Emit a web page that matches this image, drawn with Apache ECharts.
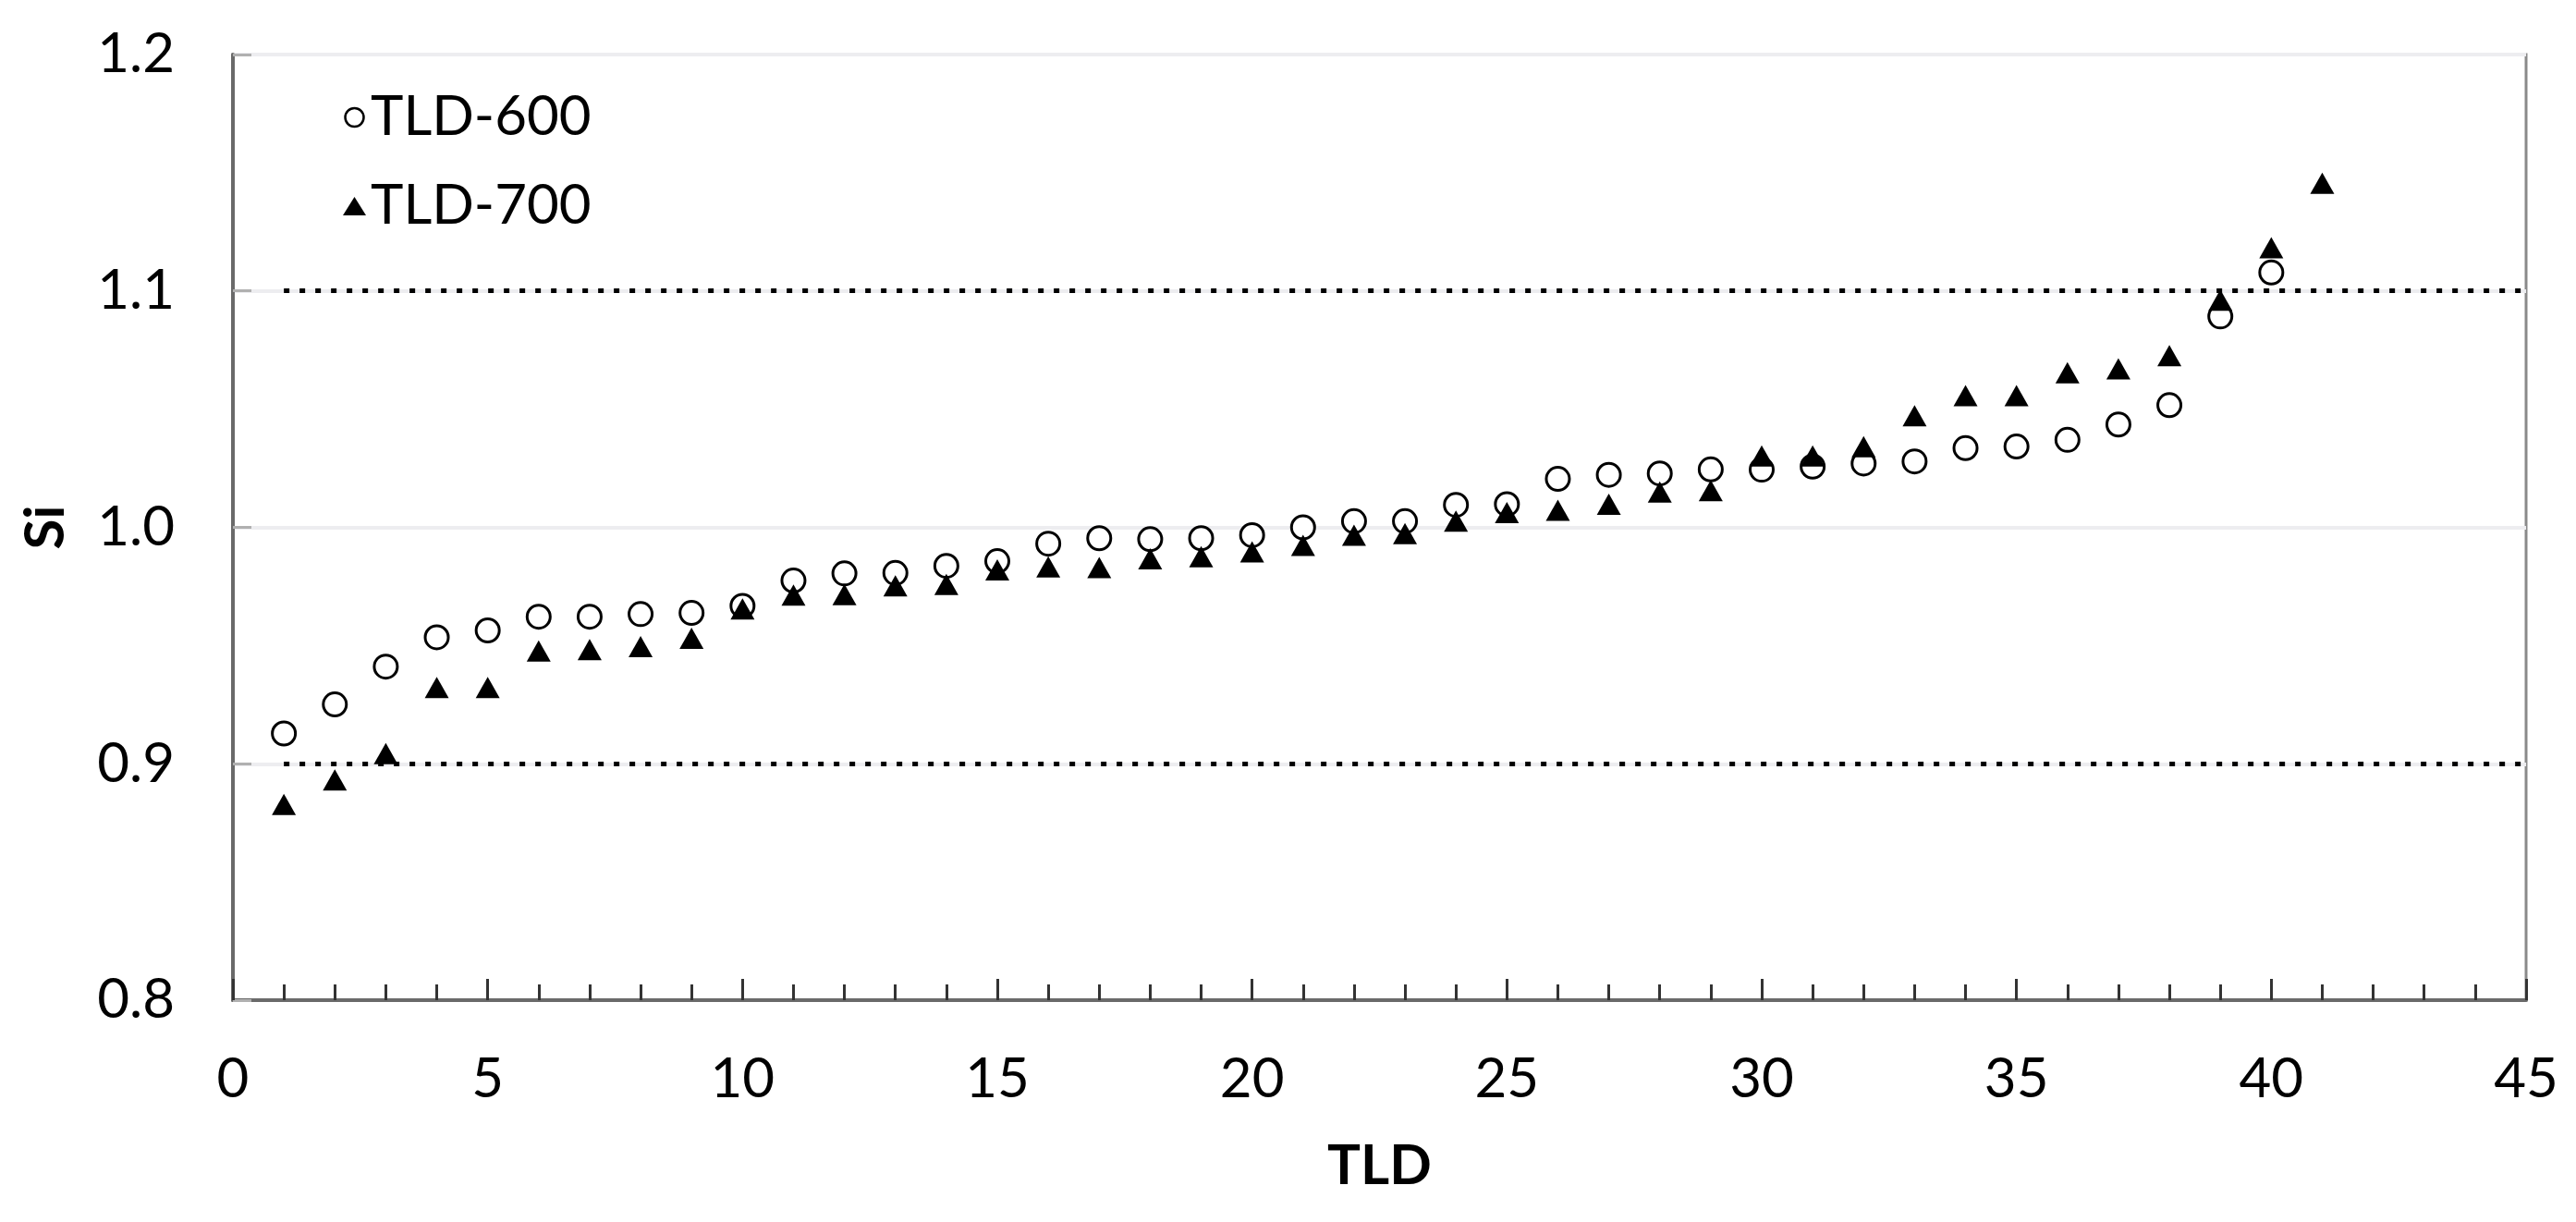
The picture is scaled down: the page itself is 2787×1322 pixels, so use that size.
<!DOCTYPE html>
<html>
<head>
<meta charset="utf-8">
<style>
  html, body { margin: 0; padding: 0; background: #fff; }
  #chart { width: 2787px; height: 1322px; }
</style>
<script src="https://cdn.jsdelivr.net/npm/echarts@6/dist/echarts.min.js"></script>
</head>
<body>
<div id="chart"></div>
<script>
// ---- data ----
const seriesNames = ['TLD-600', 'TLD-700'];
const tld600X = [1,2,3,4,5,6,7,8,9,10,11,12,13,14,15,16,17,18,19,20,21,22,23,24,25,26,27,28,29,30,31,32,33,34,35,36,37,38,39,40];
const tld600Si = [0.9128,0.9251,0.9411,0.9535,0.9564,0.9622,0.9622,0.9633,0.9638,0.9668,
                  0.9775,0.9805,0.9807,0.9837,0.9857,0.9931,0.9954,0.9950,0.9954,0.9967,
                  1.0000,1.0026,1.0026,1.0095,1.0098,1.0205,1.0222,1.0228,1.0245,1.0244,
                  1.0257,1.0270,1.0279,1.0335,1.0342,1.0370,1.0435,1.0517,1.0892,1.1078];
const tld700X = [1,2,3,4,5,6,7,8,9,10,11,12,13,14,15,16,17,18,19,20,21,22,23,24,25,26,27,28,29,30,31,32,33,34,35,36,37,38,39,40,41];
const tld700Si = [0.8828,0.8932,0.9043,0.9323,0.9323,0.9477,0.9483,0.9496,0.9531,0.9655,
                  0.9714,0.9716,0.9753,0.9759,0.9820,0.9833,0.9830,0.9867,0.9876,0.9896,
                  0.9924,0.9967,0.9974,1.0026,1.0063,1.0072,1.0098,1.0150,1.0155,1.0302,
                  1.0302,1.0341,1.0472,1.0557,1.0557,1.0654,1.0671,1.0726,1.0961,1.1183,1.1456];
const limitLines = [0.9, 1.1];          // dotted reference lines
const limitFrom = 1, limitTo = 45;       // x-extent of the dotted lines
const xMin = 0, xMax = 45, xStep = 5;
const yMin = 0.8, yMax = 1.2, yStep = 0.1;
const xTitle = 'TLD', yTitle = 'Si';

// ---- chart ----
const FONT = 'Lato';
const chart = echarts.init(document.getElementById('chart'), null, { renderer: 'canvas' });
const pairs = (xs, ys) => xs.map((x, i) => [x, ys[i]]);

chart.setOption({
  animation: false,
  backgroundColor: '#fff',
  textStyle: { fontFamily: FONT },
  grid: {
    left: 252, right: 54, top: 59, bottom: 240,
    show: true, borderColor: '#8a8a8a', borderWidth: 3, backgroundColor: 'transparent'
  },
  legend: {
    orient: 'vertical',
    left: 366, top: 92,
    itemWidth: 25, itemHeight: 20, itemGap: 36, itemTextGap: 29,
    textStyle: { fontFamily: FONT, fontSize: 60, color: '#000' },
    data: [
      { name: seriesNames[0], icon: 'circle',
        itemStyle: { color: '#fff', borderColor: '#000', borderWidth: 2.5 } },
      { name: seriesNames[1], icon: 'triangle',
        itemStyle: { color: '#000', borderWidth: 0 } }
    ]
  },
  xAxis: {
    type: 'value', min: xMin, max: xMax, interval: xStep,
    name: xTitle, nameLocation: 'middle', nameGap: 150,
    nameTextStyle: { fontFamily: FONT, fontSize: 60, fontWeight: 'bold', color: '#000' },
    axisLine: { show: true, onZero: false, lineStyle: { color: '#6a6a6a', width: 4 } },
    axisTick: { show: true, inside: true, length: 23, lineStyle: { color: '#333', width: 3 } },
    minorTick: { show: true, splitNumber: 5, length: 17, lineStyle: { color: '#333', width: 3 } },
    axisLabel: { fontFamily: FONT, fontSize: 60, color: '#000', margin: 56 },
    splitLine: { show: false }
  },
  yAxis: {
    type: 'value', min: yMin, max: yMax, interval: yStep,
    name: yTitle, nameLocation: 'middle', nameGap: 172,
    nameTextStyle: { fontFamily: FONT, fontSize: 60, fontWeight: 'bold', color: '#000' },
    axisLine: { show: true, onZero: false, lineStyle: { color: '#6a6a6a', width: 4 } },
    axisTick: { show: true, inside: true, length: 20, lineStyle: { color: '#b0b0b0', width: 3 } },
    axisLabel: { fontFamily: FONT, fontSize: 60, color: '#000', margin: 63,
                 formatter: v => v.toFixed(1) },
    splitLine: { show: true, lineStyle: { color: '#ededf0', width: 4 } }
  },
  series: [
    {
      name: seriesNames[0], type: 'scatter', z: 3,
      symbol: 'circle', symbolSize: 25,
      itemStyle: { color: '#fff', borderColor: '#000', borderWidth: 3, opacity: 1 },
      data: pairs(tld600X, tld600Si),
      markLine: {
        silent: true, z: 1, symbol: ['none', 'none'],
        label: { show: false },
        lineStyle: { color: '#000', type: [6, 11], width: 5, cap: 'butt' },
        emphasis: { disabled: true },
        data: limitLines.map(v => [{ coord: [limitFrom, v] }, { coord: [limitTo, v] }])
      }
    },
    {
      name: seriesNames[1], type: 'scatter', z: 4,
      symbol: 'triangle', symbolSize: [26, 23],
      itemStyle: { color: '#000', opacity: 1 },
      data: pairs(tld700X, tld700Si)
    }
  ]
});
</script>
</body>
</html>
